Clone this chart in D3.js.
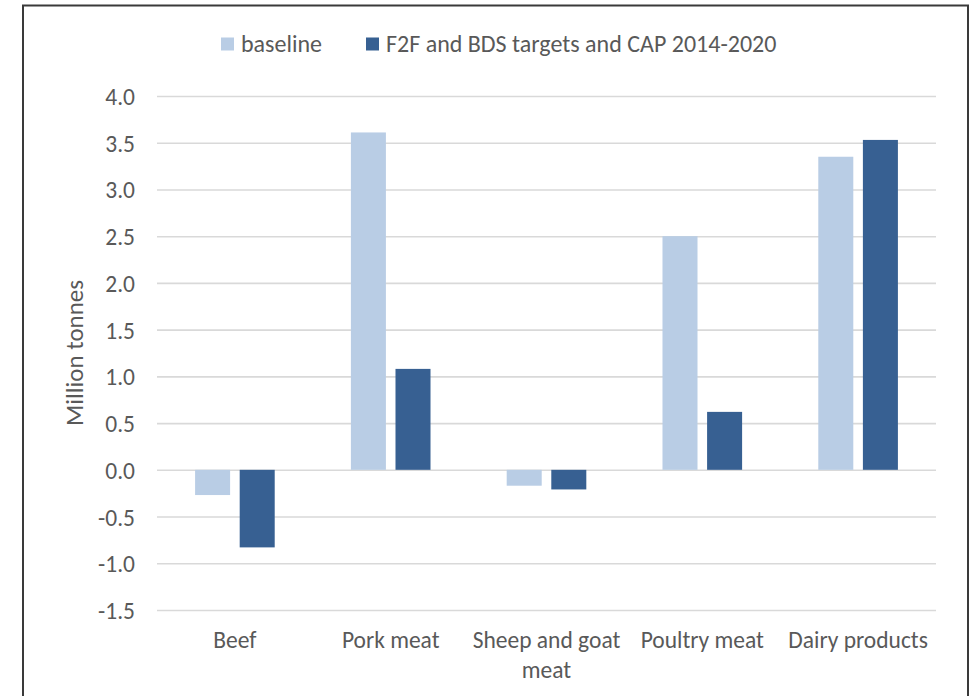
<!DOCTYPE html>
<html>
<head>
<meta charset="utf-8">
<script src="https://cdn.jsdelivr.net/npm/d3@7/dist/d3.min.js"></script>
<style>
  html, body { margin: 0; padding: 0; background: #fff; }
  svg { display: block; }
  text { font-family: Carlito, Calibri, Lato, "Open Sans", sans-serif; fill: #595959; }
</style>
</head>
<body>
<svg id="chart" width="976" height="696"></svg>
<script>
// Change in production by product group (million tonnes)
const categories = ["Beef", "Pork meat", "Sheep and goat meat", "Poultry meat", "Dairy products"];
const seriesNames = ["baseline", "F2F and BDS targets and CAP 2014-2020"];
const baselineValues = [-0.27, 3.61, -0.17, 2.50, 3.35];
const targetValues = [-0.83, 1.08, -0.21, 0.62, 3.53];
const yTicks = [-1.5, -1.0, -0.5, 0.0, 0.5, 1.0, 1.5, 2.0, 2.5, 3.0, 3.5, 4.0];
const seriesColors = ["#b9cde5", "#376092"];

const FONT = 23.5;
const svg = d3.select("#chart");

// outer frame
svg.append("rect")
  .attr("x", 23).attr("y", 5.5)
  .attr("width", 945).attr("height", 720)
  .attr("fill", "none").attr("stroke", "#3a3a3a").attr("stroke-width", 2);

const plot = { left: 157, right: 936, top: 96, bottom: 610 };

const y = d3.scaleLinear().domain([-1.5, 4.0]).range([plot.bottom, plot.top]);
const x0 = d3.scaleBand().domain(categories).range([plot.left, plot.right])
  .paddingInner(0.489).paddingOuter(0.2445);
const x1 = d3.scaleBand().domain(seriesNames).range([0, x0.bandwidth()])
  .paddingInner(0.215).paddingOuter(0);

// gridlines + tick labels (plain hyphen for negatives)
const fmt = d3.format(".1f");
const yAxis = d3.axisLeft(y).tickValues(yTicks)
  .tickSize(-(plot.right - plot.left)).tickPadding(22)
  .tickFormat(d => fmt(d).replace("\u2212", "-"));
const gy = svg.append("g").attr("transform", `translate(${plot.left},0)`).call(yAxis);
gy.select(".domain").remove();
gy.attr("font-family", null);
gy.selectAll(".tick line").attr("stroke", "#d9d9d9").attr("stroke-width", 1.6);
gy.selectAll(".tick text").attr("font-size", FONT).attr("fill", "#595959").attr("dy", "0.36em");

// bars
const rows = categories.map((c, i) => ({ cat: c, vals: [baselineValues[i], targetValues[i]] }));
const groups = svg.append("g").selectAll("g").data(rows).join("g")
  .attr("transform", d => `translate(${x0(d.cat)},0)`);
groups.selectAll("rect")
  .data(d => d.vals.map((v, k) => ({ name: seriesNames[k], v, k })))
  .join("rect")
  .attr("x", d => x1(d.name))
  .attr("width", x1.bandwidth())
  .attr("y", d => y(Math.max(0, d.v)))
  .attr("height", d => Math.abs(y(d.v) - y(0)))
  .attr("fill", d => seriesColors[d.k]);

// category labels (wrapped)
const labelLines = {
  "Beef": ["Beef"],
  "Pork meat": ["Pork meat"],
  "Sheep and goat meat": ["Sheep and goat", "meat"],
  "Poultry meat": ["Poultry meat"],
  "Dairy products": ["Dairy products"]
};
const xl = svg.append("g");
categories.forEach(c => {
  const cx = x0(c) + x0.bandwidth() / 2;
  const t = xl.append("text")
    .attr("x", cx).attr("y", 648)
    .attr("text-anchor", "middle")
    .attr("font-size", FONT);
  labelLines[c].forEach((line, i) => {
    t.append("tspan").attr("x", cx).attr("dy", i === 0 ? 0 : 30).text(line);
  });
});

// y-axis title
svg.append("text")
  .attr("transform", `translate(83,${(plot.top + plot.bottom) / 2}) rotate(-90)`)
  .attr("text-anchor", "middle")
  .attr("font-size", 25)
  .text("Million tonnes");

// legend
const legend = svg.append("g");
let lx = 221;
seriesNames.forEach((name, k) => {
  legend.append("rect").attr("x", lx).attr("y", 37.5).attr("width", 13).attr("height", 13)
    .attr("fill", seriesColors[k]);
  const t = legend.append("text").attr("x", lx + 20).attr("y", 51.5)
    .attr("font-size", 24).text(name);
  lx += 20 + t.node().getComputedTextLength() + 44;
});
</script>
</body>
</html>
